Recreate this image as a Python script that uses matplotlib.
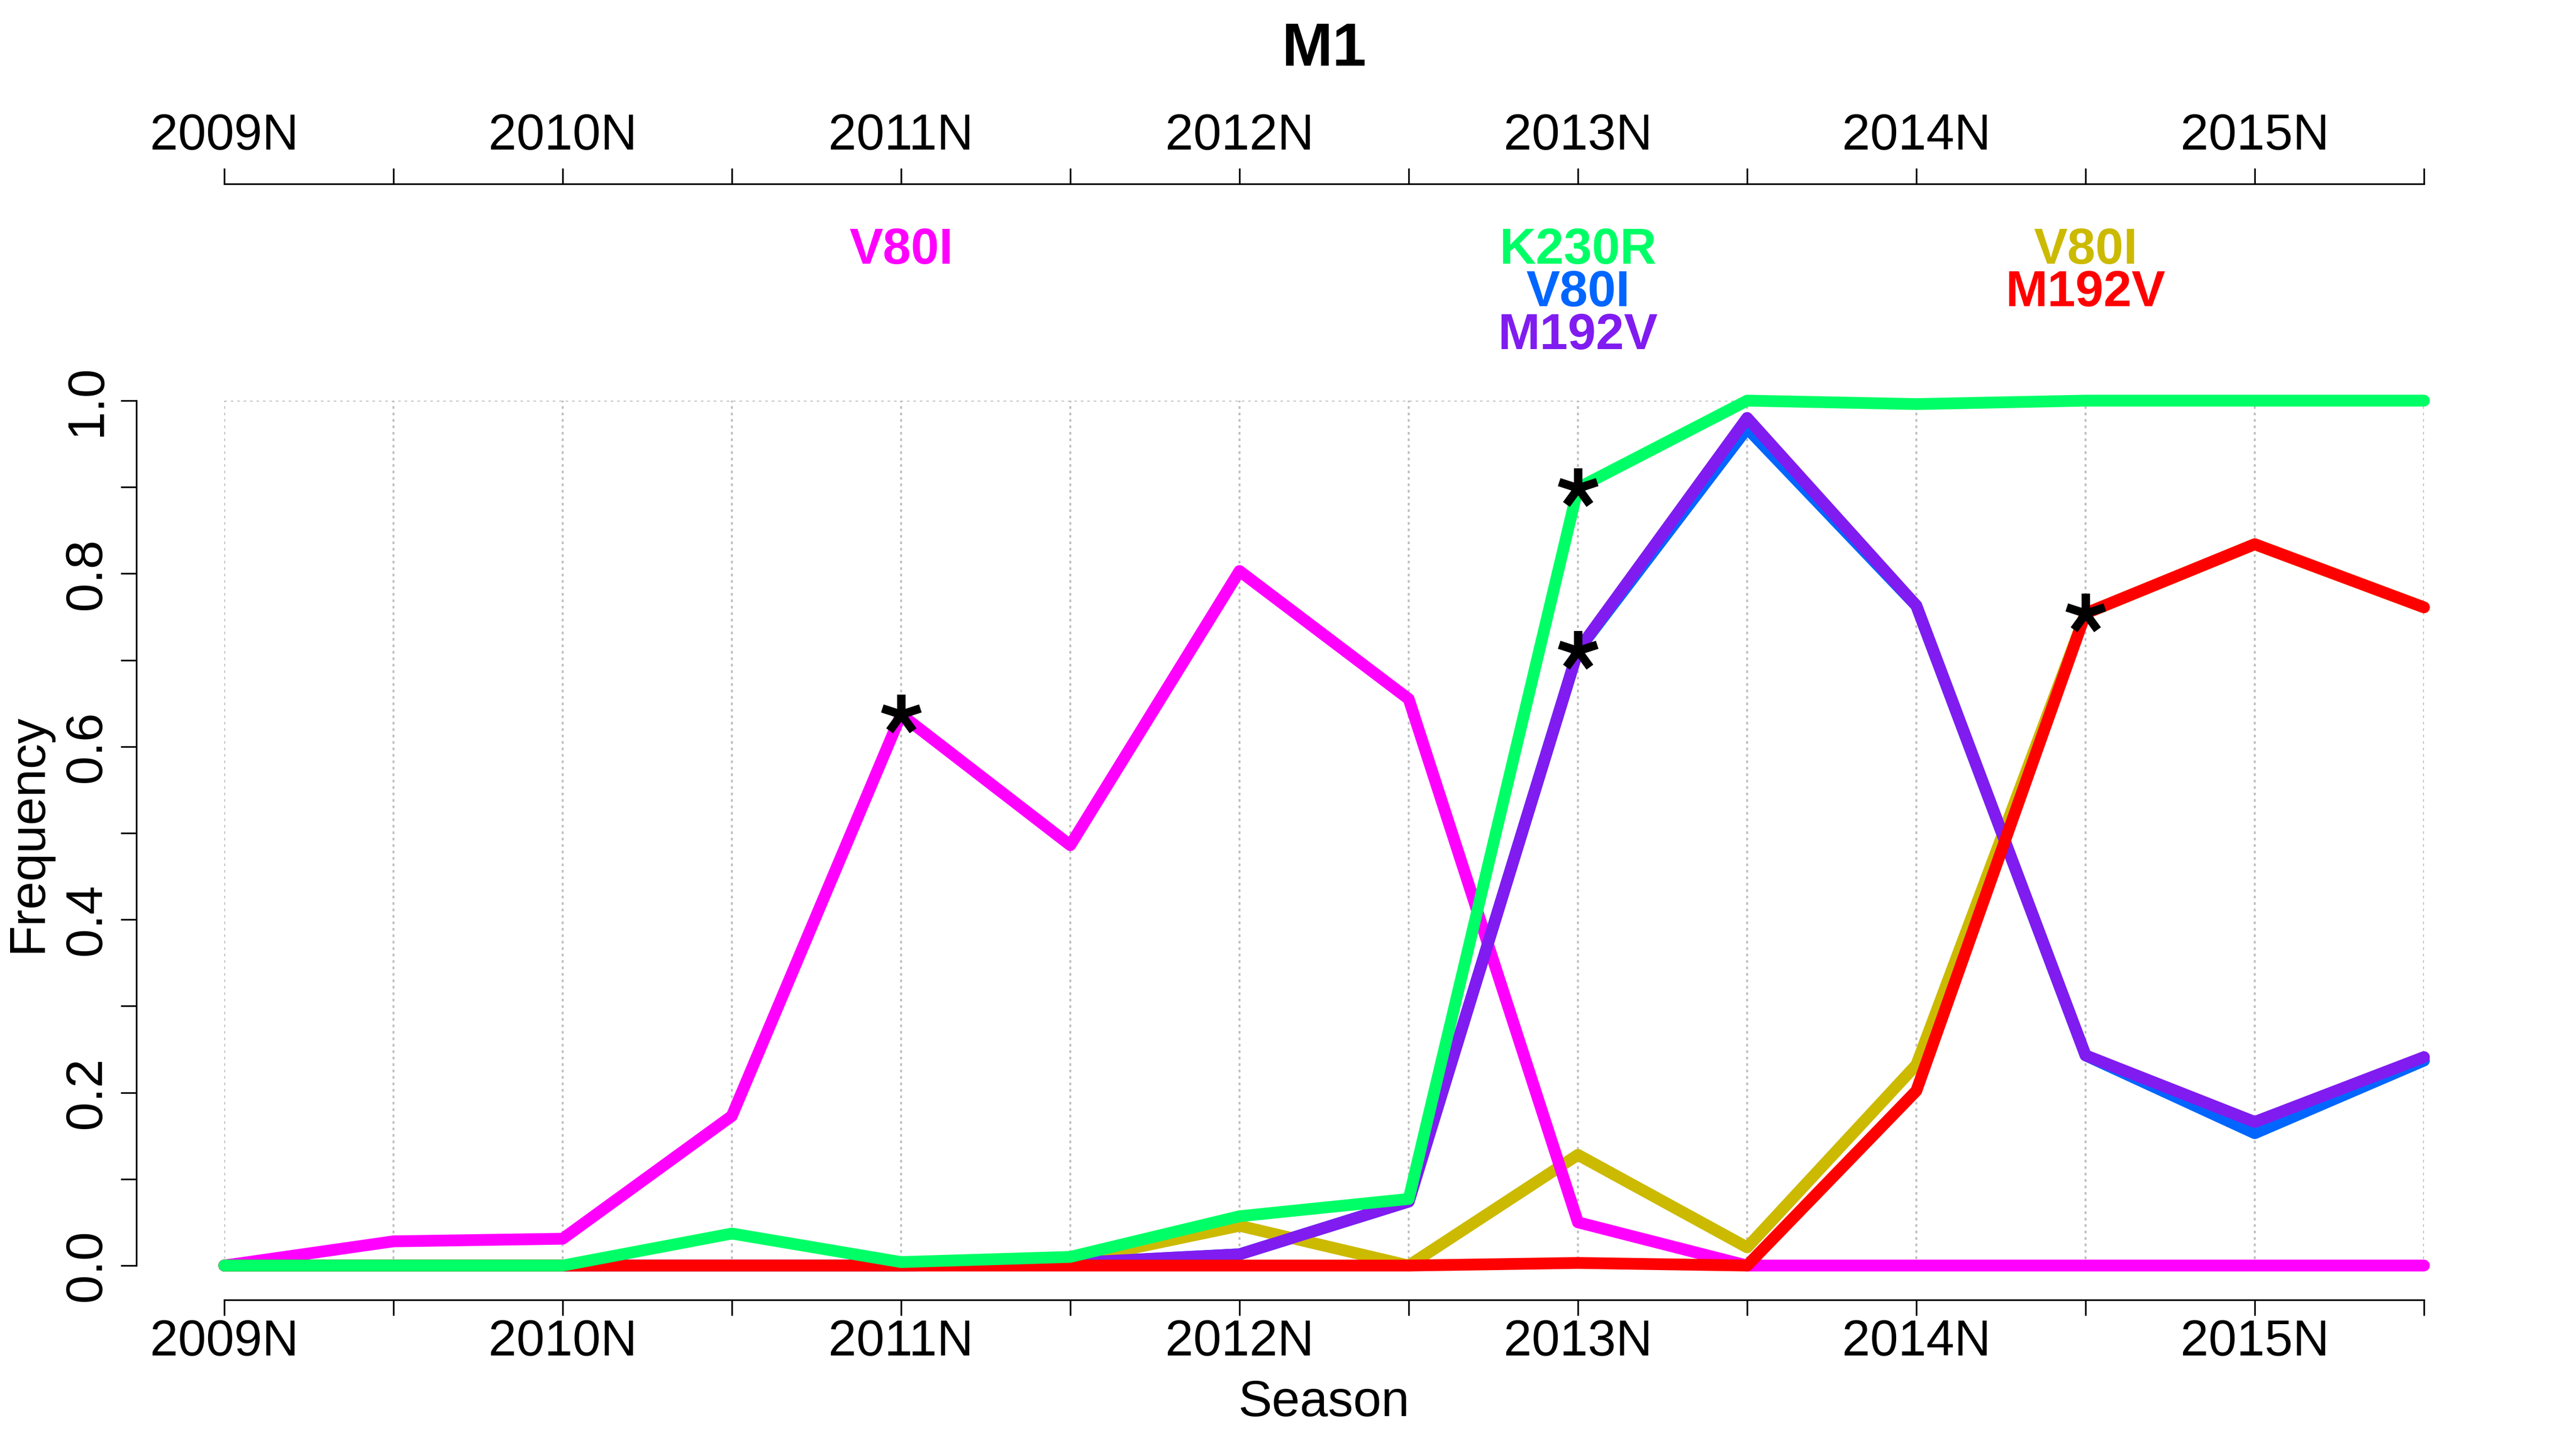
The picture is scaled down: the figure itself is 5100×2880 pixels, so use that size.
import numpy as np
import matplotlib
matplotlib.use("Agg")
import matplotlib.pyplot as plt
from matplotlib.path import Path
from matplotlib.transforms import blended_transform_factory

plt.rcParams['font.family'] = ['Liberation Sans', 'DejaVu Sans']

# --- data (one value per half season, 2009N .. 2015S) ---
season_labels = ['2009N', '', '2010N', '', '2011N', '', '2012N', '',
                 '2013N', '', '2014N', '', '2015N', '']

v80i_2011 = [0, 0.028, 0.031, 0.173, 0.637, 0.486, 0.803, 0.655, 0.050, 0, 0, 0, 0, 0]
k230r_2013 = [0, 0, 0, 0.037, 0.004, 0.010, 0.057, 0.077, 0.899, 1.0, 0.996, 1.0, 1.0, 1.0]
v80i_2013 = [0, 0, 0, 0, 0, 0.003, 0.013, 0.074, 0.711, 0.968, 0.763, 0.243, 0.153, 0.237]
m192v_2013 = [0, 0, 0, 0, 0, 0.003, 0.013, 0.074, 0.711, 0.980, 0.763, 0.243, 0.166, 0.241]
v80i_2014 = [0, 0, 0, 0, 0, 0.005, 0.046, 0.0, 0.128, 0.021, 0.232, 0.754, 0.834, 0.761]
m192v_2014 = [0, 0, 0, 0, 0, 0, 0, 0, 0.003, 0.0, 0.202, 0.754, 0.834, 0.761]

# draw order bottom -> top : (values, colour)
series = [(v80i_2013, '#0066FF'),
          (v80i_2014, '#CCBA00'),
          (v80i_2011, '#FF00FF'),
          (m192v_2013, '#801CF0'),
          (m192v_2014, '#FF0000'),
          (k230r_2013, '#00FF66')]

# significant points: (season index, series)
stars = [(4, v80i_2011), (8, k230r_2013), (8, m192v_2013), (11, m192v_2014)]

# labels above the plot: (season index, row, text, colour)
mut_labels = [(4, 0, 'V80I', '#FF00FF'),
              (8, 0, 'K230R', '#00FF66'),
              (8, 1, 'V80I', '#0066FF'),
              (8, 2, 'M192V', '#801CF0'),
              (11, 0, 'V80I', '#CCBA00'),
              (11, 1, 'M192V', '#FF0000')]

W, H = 5100, 2880
fig = plt.figure(figsize=(17, 9.6), dpi=300)
ax = fig.add_axes([444 / W, (H - 2505) / H, (4799 - 444) / W, (2505 - 793) / H])

x = np.arange(len(season_labels))

# dotted grid
grid_kw = dict(color='#BEBEBE', lw=0.9, ls=(0, (1.4, 2.0)), zorder=0)
for xi in x:
    ax.axvline(xi, **grid_kw)
ax.axhline(0, **grid_kw)
ax.axhline(1, **grid_kw)

for z, (vals, col) in enumerate(series):
    ax.plot(x, vals, color=col, lw=5.6, solid_capstyle='round',
            solid_joinstyle='round', clip_on=False, zorder=2 + z)

# five-armed asterisk marker
verts, codes = [], []
for k in range(5):
    a = np.deg2rad(90 + 72 * k)
    verts += [(0, 0), (np.cos(a), np.sin(a))]
    codes += [Path.MOVETO, Path.LINETO]
star = Path(verts, codes)
for i, vals in stars:
    ax.plot([x[i]], [vals[i]], marker=star, ms=19, mew=4.0, mec='black',
            ls='none', clip_on=False, zorder=20)

ax.set_xlim(0, 13)
ax.set_ylim(0, 1)

for s in ['right', 'top']:
    ax.spines[s].set_visible(False)
ax.spines['left'].set_position(('outward', 41.8))
ax.spines['left'].set_bounds(0, 1)
ax.spines['bottom'].set_position(('outward', 16.3))
ax.spines['left'].set_linewidth(0.8)
ax.spines['bottom'].set_linewidth(0.8)

ax.set_xticks(x)
ax.set_xticklabels(season_labels)
ax.tick_params(axis='x', length=7.4, width=0.8, labelsize=24, pad=1.5)

yt = np.round(np.arange(0, 1.01, 0.1), 1)
ax.set_yticks(yt)
ax.set_yticklabels([f'{v:.1f}' if round(v * 10) % 2 == 0 else '' for v in yt])
ax.tick_params(axis='y', length=7.4, width=0.8, labelsize=24.5, pad=4.5, labelrotation=90)
for lab in ax.get_yticklabels():
    lab.set_va('center')

# top season axis
sec = ax.secondary_xaxis(1 + 429 / 1712)
sec.set_xticks(x)
sec.set_xticklabels(season_labels)
sec.tick_params(length=7.4, width=0.8, labelsize=24, pad=3.8)
sec.spines['top'].set_linewidth(0.8)

# mutation labels
tr = blended_transform_factory(ax.transData, fig.transFigure)
row_base = [522, 606, 691]
for i, row, txt, col in mut_labels:
    ax.text(x[i], 1 - row_base[row] / H, txt, transform=tr, color=col,
            fontsize=24, fontweight='bold', ha='center', va='baseline')

tra = blended_transform_factory(ax.transAxes, fig.transFigure)
ax.text(0.5, 1 - 130 / H, 'M1', transform=tra, fontsize=29, fontweight='bold',
        ha='center', va='baseline')
ax.text(0.5, 1 - 2803 / H, 'Season', transform=tra, fontsize=24,
        ha='center', va='baseline')
fig.text(82 / W, 1 - 1649 / H, 'Frequency', fontsize=24, rotation=90,
         rotation_mode='anchor', ha='center', va='baseline')

fig.savefig('out.png', dpi=300)
